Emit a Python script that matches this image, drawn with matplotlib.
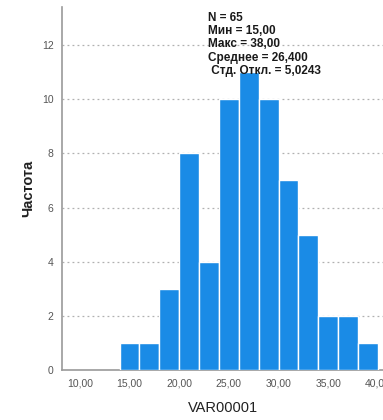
import matplotlib
matplotlib.use("Agg")
import matplotlib.pyplot as plt
import numpy as np

# Histogram of VAR00001 (bin width 2)
bin_edges = [14, 16, 18, 20, 22, 24, 26, 28, 30, 32, 34, 36, 38, 40]
counts = [1, 1, 3, 8, 4, 10, 11, 10, 7, 5, 2, 2, 1]
x_ticks = [10, 15, 20, 25, 30, 35, 40]
x_tick_labels = ["10,00", "15,00", "20,00", "25,00", "30,00", "35,00", "40,00"]
y_ticks = [0, 2, 4, 6, 8, 10, 12]
stats_lines = ["N = 65", "Мин = 15,00", "Макс = 38,00", "Среднее = 26,400", " Стд. Откл. = 5,0243"]

narrow = ["Liberation Sans Narrow", "Liberation Sans", "DejaVu Sans"]
plt.rcParams["font.family"] = narrow

fig = plt.figure(figsize=(3.83, 4.2), dpi=100)
ax = fig.add_axes([0.162, 0.119, 0.84, 0.864])

lefts = np.array(bin_edges[:-1])
widths = np.diff(bin_edges)
ax.bar(lefts, counts, width=widths, align="edge", color="#1A8BE6",
       edgecolor="white", linewidth=1.0, zorder=3)

ax.set_xlim(8.2, 40.6)
ax.set_ylim(0, 13.4)
ax.set_yticks(y_ticks)
ax.set_yticklabels([str(v) for v in y_ticks])
ax.set_xticks(x_ticks)
ax.set_xticklabels(x_tick_labels)
ax.tick_params(axis="both", length=0, colors="#555555", labelsize=7.5)
ax.tick_params(axis="x", pad=6)
ax.tick_params(axis="y", pad=6)

for v in y_ticks[1:]:
    ax.axhline(v, color="#b0b0b0", linestyle=(0, (1.5, 2.5)), linewidth=0.9, zorder=1)

for side in ("top", "right"):
    ax.spines[side].set_visible(False)
for side in ("left", "bottom"):
    ax.spines[side].set_color("#9a9a9a")
    ax.spines[side].set_linewidth(1.2)

ax.set_ylabel("Частота", fontsize=10.5, fontweight="bold", color="#222222", labelpad=5,
              family=["Liberation Sans", "DejaVu Sans"])
ax.set_xlabel("VAR00001", fontsize=10.5, color="#222222", labelpad=9,
              family=["Liberation Sans", "DejaVu Sans"])

for i, line in enumerate(stats_lines):
    fig.text(208 / 383, 1 - (18 + 13.2 * i) / 420, line, fontsize=8.5,
             fontweight="bold", color="#1a1a1a", ha="left", va="center")

fig.savefig("out.png", dpi=100)
